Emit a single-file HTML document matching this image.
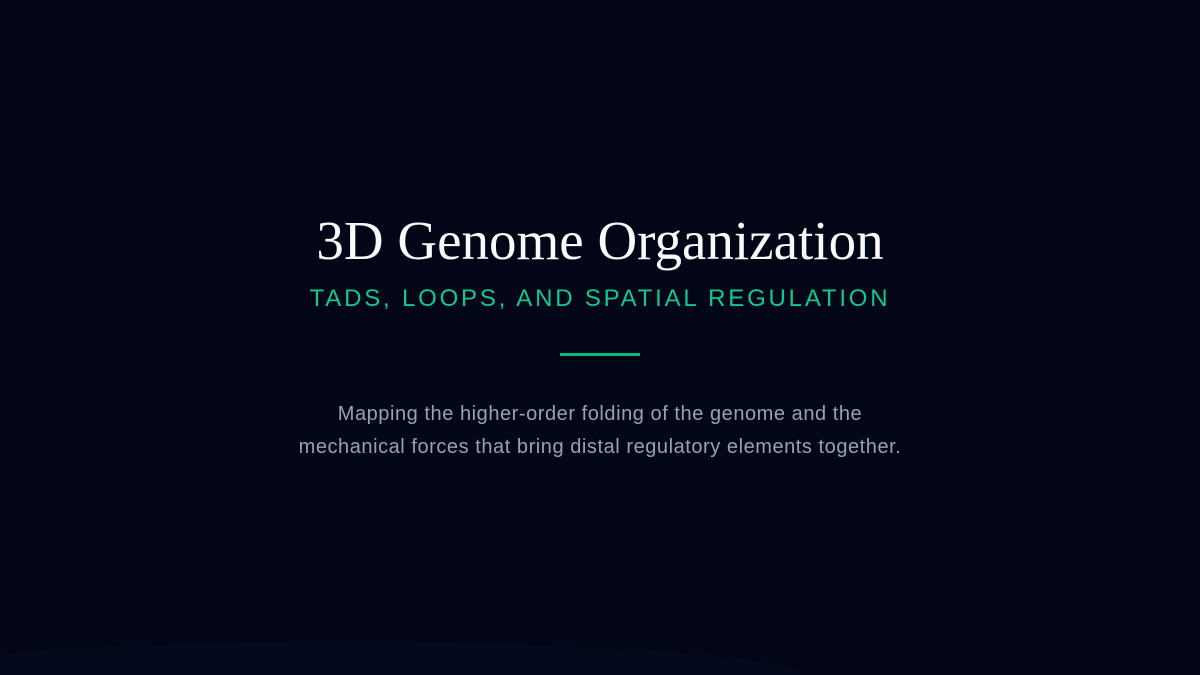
<!DOCTYPE html>
<html><head><meta charset="utf-8"><style>
html,body{margin:0;padding:0;width:1200px;height:675px;overflow:hidden}
body{background:#020617;position:relative;font-family:"Liberation Sans",sans-serif}
.t{position:absolute;left:0;width:1200px;text-align:center;white-space:nowrap}
h1{margin:0;font-family:"Liberation Serif",serif;font-weight:400;color:#f8fafc;font-size:55px;top:209px;line-height:64px}
.s{top:284px;color:#10c98f;font-size:24px;letter-spacing:2.8px;line-height:30px}
.bar{position:absolute;left:560px;top:353px;width:80px;height:3px;background:#10b981}
.p{top:398px;color:#94a3b8;font-size:20px;letter-spacing:0.55px;line-height:33px}
.glow{position:absolute;left:-100px;top:642px;width:900px;height:66px;border-radius:50% 50% 0 0;background:rgba(20,30,70,0.15)}
</style></head><body>
<div class="glow"></div>
<h1 class="t">3D Genome Organization</h1>
<div class="t s">TADS, LOOPS, AND SPATIAL REGULATION</div>
<div class="bar"></div>
<div class="t p">Mapping the higher-order folding of the genome and the<br>mechanical forces that bring distal regulatory elements together.</div>
</body></html>
